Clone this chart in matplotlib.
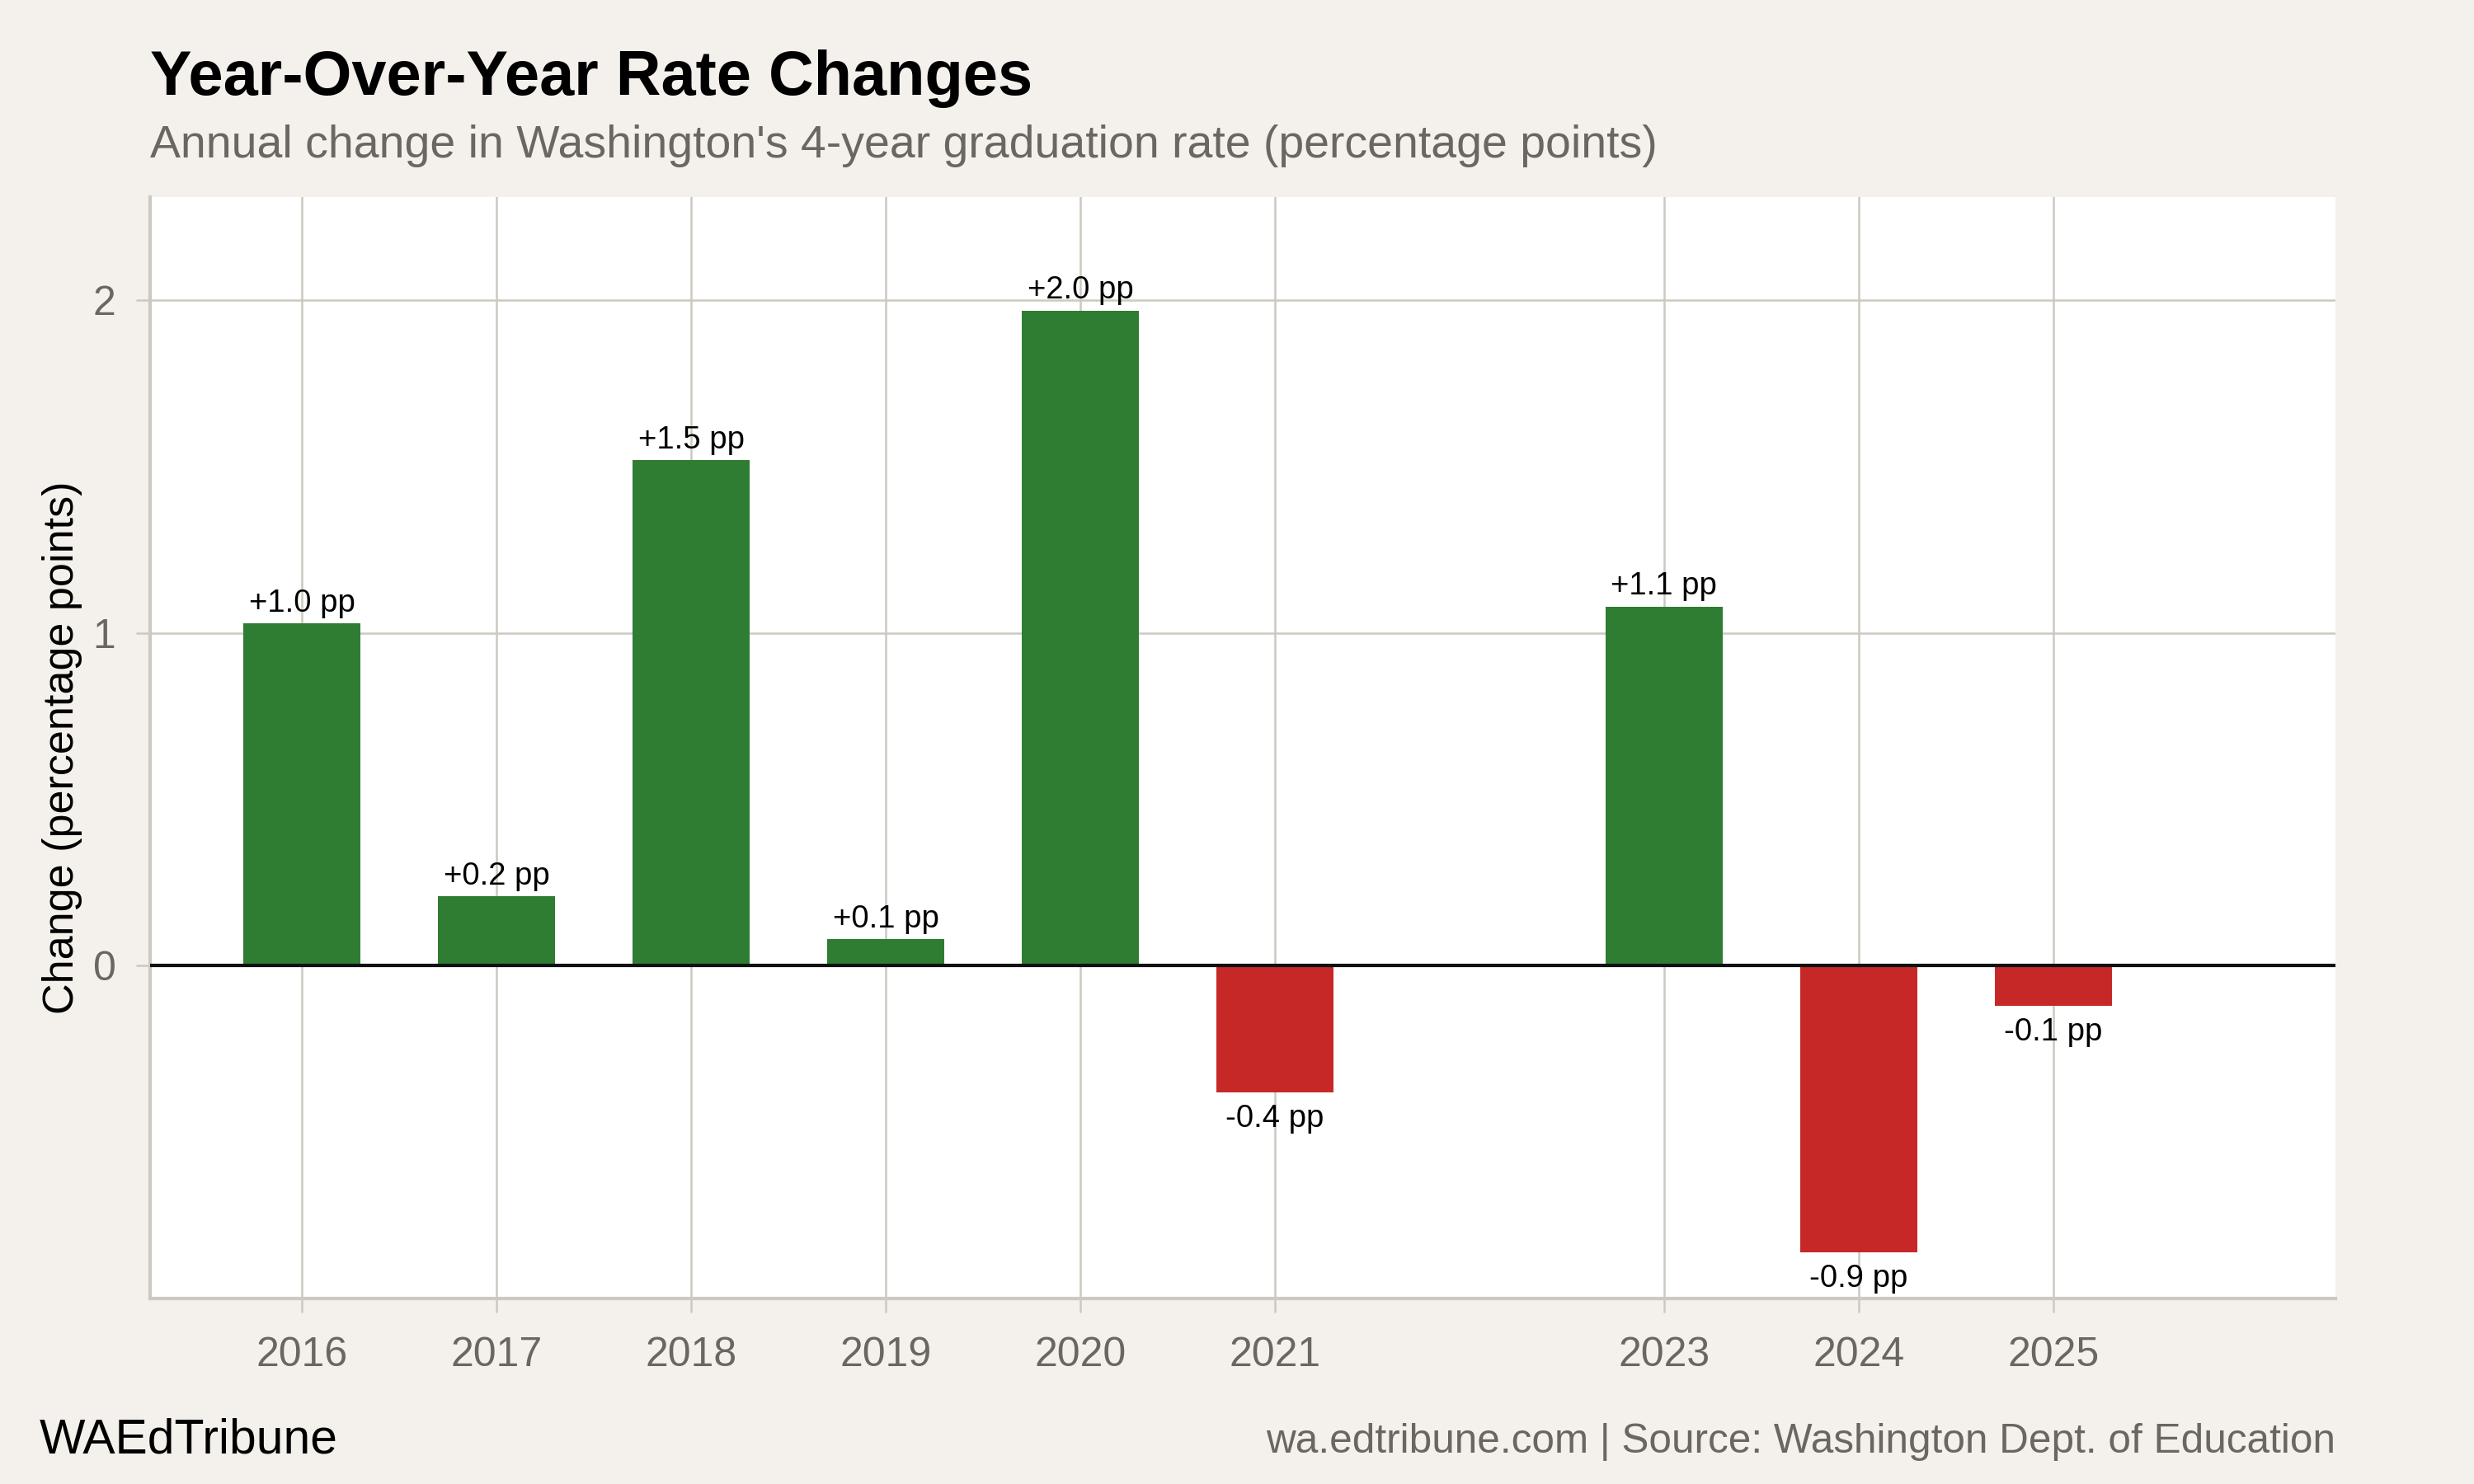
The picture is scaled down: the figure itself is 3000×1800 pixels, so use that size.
import numpy as np
import matplotlib.pyplot as plt

years = [2016, 2017, 2018, 2019, 2020, 2021, 2023, 2024, 2025]
change = [1.03, 0.21, 1.52, 0.08, 1.97, -0.38, 1.08, -0.86, -0.12]
labels = ['+1.0 pp', '+0.2 pp', '+1.5 pp', '+0.1 pp', '+2.0 pp',
          '-0.4 pp', '+1.1 pp', '-0.9 pp', '-0.1 pp']

bg = '#f4f1ec'
grid_c = '#cdc8c0'
grey_txt = '#6b6661'
green = '#2e7d32'
red = '#c62828'

plt.rcParams.update({'font.family': ['Liberation Sans', 'DejaVu Sans']})

fig = plt.figure(figsize=(10, 6), dpi=300, facecolor=bg)
ax = fig.add_axes([0.0607, 0.125, 0.8833, 0.742])
ax.set_facecolor('white')

colors = [green if v >= 0 else red for v in change]
ax.bar(years, change, width=0.6, color=colors, zorder=2)
ax.axhline(0, color='#111111', lw=1.0, zorder=3)

for x, v, t in zip(years, change, labels):
    if v >= 0:
        ax.annotate(t, xy=(x, v), xytext=(0, 1.5), textcoords='offset points',
                    ha='center', va='bottom', fontsize=9.2, color='black')
    else:
        ax.annotate(t, xy=(x, v), xytext=(0, -3.5), textcoords='offset points',
                    ha='center', va='top', fontsize=9.2, color='black')

ax.set_xlim(2015.22, 2026.45)
ax.set_ylim(-1.0, 2.31)
ax.set_xticks(years)
ax.set_xticklabels([str(y) for y in years])
ax.set_yticks([0, 1, 2])
ax.grid(True, color=grid_c, lw=0.6, zorder=0)
ax.set_axisbelow(True)

for s in ['top', 'right']:
    ax.spines[s].set_visible(False)
for s in ['left', 'bottom']:
    ax.spines[s].set_color(grid_c)
    ax.spines[s].set_linewidth(1.0)
ax.tick_params(axis='both', colors=grid_c, labelcolor=grey_txt,
               labelsize=12, length=4, width=0.6)
ax.tick_params(axis='x', pad=7)
ax.tick_params(axis='y', pad=6)
ax.set_ylabel('Change (percentage points)', fontsize=12.5, color='black', labelpad=3)

fig.text(0.0607, 0.936, 'Year-Over-Year Rate Changes', fontsize=18.2,
         fontweight='bold', color='black', ha='left', va='baseline')
fig.text(0.0607, 0.894, "Annual change in Washington's 4-year graduation rate (percentage points)",
         fontsize=13.3, color=grey_txt, ha='left', va='baseline')
fig.text(0.016, 0.021, 'WAEdTribune', fontsize=14.1, color='black',
         ha='left', va='baseline')
fig.text(0.944, 0.021, 'wa.edtribune.com | Source: Washington Dept. of Education',
         fontsize=11.9, color=grey_txt, ha='right', va='baseline')

fig.savefig('out.png', dpi=300, facecolor=bg)
